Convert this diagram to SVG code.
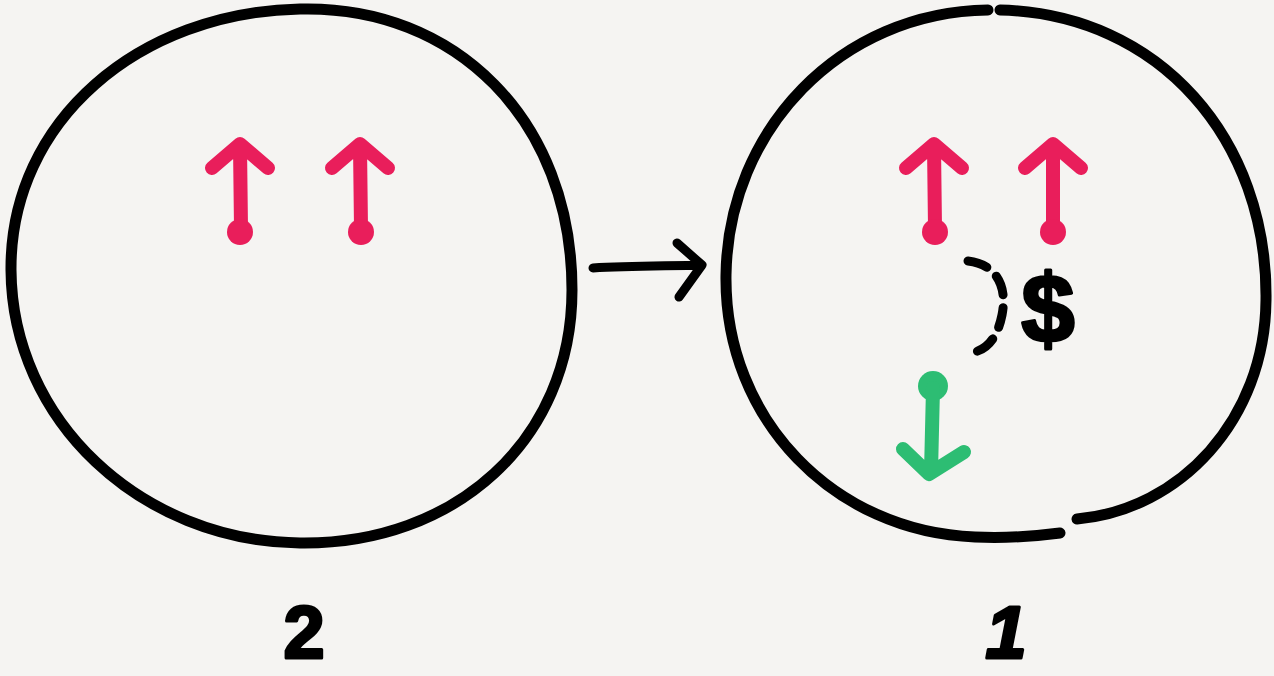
<svg xmlns="http://www.w3.org/2000/svg" width="1274" height="676" viewBox="0 0 1274 676">
<style>
.ring{fill:none;stroke:#000;stroke-width:11;stroke-linecap:round;stroke-linejoin:round}
.pink{fill:none;stroke:#e91e5b;stroke-width:14;stroke-linecap:round;stroke-linejoin:round}
.green{fill:none;stroke:#2dbd73;stroke-width:14;stroke-linecap:round;stroke-linejoin:round}
.ink{fill:none;stroke:#000;stroke-width:9;stroke-linecap:round;stroke-linejoin:round}
.lbl{font-family:"Liberation Sans",Arial,sans-serif;font-weight:bold;fill:#000;stroke:#000;stroke-width:3;stroke-linejoin:round}
</style>
<rect width="1274" height="676" fill="#f5f4f2"/>
<g id="state2">
<path class="ring" d="M300,9 C455,5 572,120 572,290 C572,440 455,545 300,543 C140,541 12,420 11,270 C10,120 140,12 300,9 Z"/>
<g id="s2-up1"><path class="pink" d="M212,168 L240,144 L268,168 M240,146 L241,228"/><circle cx="240" cy="232" r="13" fill="#e91e5b"/></g>
<g id="s2-up2"><path class="pink" d="M332,168 L360,144 L388,168 M360,146 L361,228"/><circle cx="361" cy="232" r="13" fill="#e91e5b"/></g>
<text class="lbl" x="304" y="658" font-size="74" text-anchor="middle">2</text>
</g>
<g id="state1">
<path class="ring" d="M1000,10 C1160,14 1268,140 1266,300 C1265,420 1180,510 1077,519 M1060,533 C1030,537 1000,538 975,537 C835,532 724,420 726,275 C728,130 840,12 988,10"/>
<g id="s1-up1"><path class="pink" d="M906,168 L934,144 L962,168 M934,146 L935,228"/><circle cx="935" cy="232" r="13" fill="#e91e5b"/></g>
<g id="s1-up2"><path class="pink" d="M1025,168 L1053,144 L1081,168 M1053,146 L1053,228"/><circle cx="1053" cy="232" r="13" fill="#e91e5b"/></g>
<g id="s1-down"><circle cx="933" cy="386" r="15" fill="#2dbd73"/><path class="green" d="M933,388 L931,472 M903,449 L929,474 L964,452"/></g>
<path class="ink" d="M968,261 C995,264 1008,285 1002,315 C997,340 985,352 968,353" stroke-dasharray="20 13"/>
<text class="lbl" x="1048" y="342" font-size="96" text-anchor="middle">$</text>
<text class="lbl" x="1006" y="658" font-size="74" text-anchor="middle" font-style="italic">1</text>
</g>
<g id="connectors">
<path class="ink" d="M593,268 C630,266 670,266 702,265 M677,243 L702,265 L679,297"/>
</g>
</svg>
